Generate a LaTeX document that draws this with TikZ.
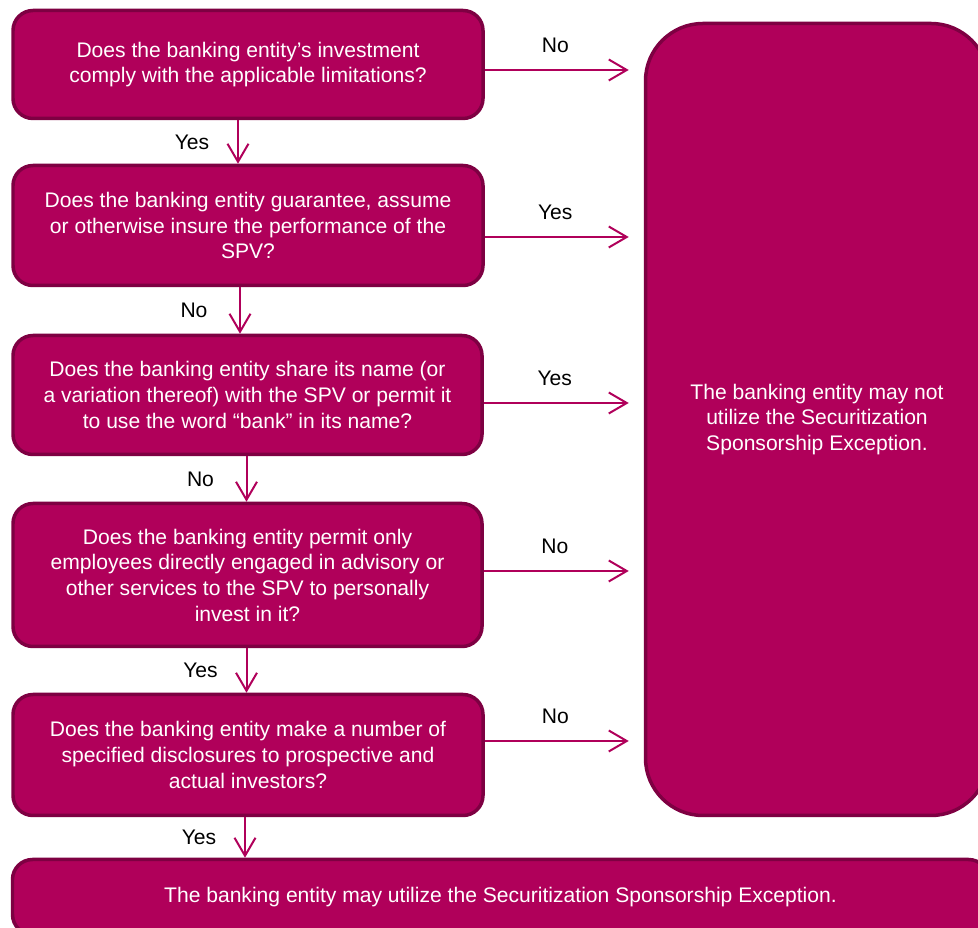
\documentclass[tikz,border=0pt]{standalone}
\usepackage{fontspec}
\setmainfont{Liberation Sans}
\usetikzlibrary{arrows.meta}
\definecolor{berry}{HTML}{B0005A}
\definecolor{berrydark}{HTML}{7E0042}

\begin{document}
\begin{tikzpicture}[x=0.02cm, y=-0.02cm,
  box/.style={draw=berrydark, fill=berry, line width=0.07cm, rounded corners=0.4cm,
    text=white, align=center, inner sep=0pt, font=\fontsize{12}{14.6}\selectfont},
  link/.style={draw=berry, line width=0.04cm, -{Straight Barb[length=0.36cm, width=0.42cm]}},
  lab/.style={text=black, font=\fontsize{12}{14.6}\selectfont}]
  \def\u{0.02cm} % un pixel

  \useasboundingbox (0,0) rectangle (978,928);
  \clip (0,0) rectangle (978,928);

  \node[box, minimum width=470*\u, minimum height=108*\u] (q1) at (248,64.5)
    {Does the banking entity’s investment\\comply with the applicable limitations?};
  \node[box, minimum width=470*\u, minimum height=120*\u] (q2) at (248,225.5)
    {Does the banking entity guarantee, assume\\or otherwise insure the performance of the\\SPV?};
  \node[box, minimum width=469*\u, minimum height=119*\u] (q3) at (247.5,395)
    {Does the banking entity share its name (or\\a variation thereof) with the SPV or permit it\\to use the word “bank” in its name?};
  \node[box, minimum width=469*\u, minimum height=143*\u] (q4) at (247.5,575)
    {Does the banking entity permit only\\employees directly engaged in advisory or\\other services to the SPV to personally\\invest in it?};
  \node[box, minimum width=470*\u, minimum height=121*\u] (q5) at (248,755)
    {Does the banking entity make a number of\\specified disclosures to prospective and\\actual investors?};

  \node[box, rounded corners=1.15cm, minimum width=343*\u, minimum height=792*\u] (stop) at (817,419.5)
    {The banking entity may not\\utilize the Securitization\\Sponsorship Exception.};
  \node[box, minimum width=976*\u, minimum height=75*\u] (go) at (500.5,897)
    {The banking entity may utilize the Securitization Sponsorship Exception.};

  % down the questions
  \foreach \a/\b/\dx/\lab in {q1/q2/-10/Yes, q2/q3/-8/No, q3/q4/-1/No, q4/q5/-1/Yes, q5/go/-3/Yes} {
    \draw[link] ([xshift=\dx*\u]\a.south) -- ([xshift=\dx*\u]\a.south |- \b.north)
      node[lab, midway, xshift=-46*\u] {\lab};
  }

  % across to the exit
  \foreach \q/\dy/\lab in {q1/-5.5/No, q2/-11.5/Yes, q3/-8/Yes, q4/4/No, q5/14/No} {
    \draw[link, shorten >=15*\u] ([yshift=\dy*\u]\q.east) -- ([yshift=\dy*\u]\q.east -| stop.west)
      node[lab, midway, xshift=-9*\u, yshift=25*\u] {\lab};
  }
\end{tikzpicture}
\end{document}
